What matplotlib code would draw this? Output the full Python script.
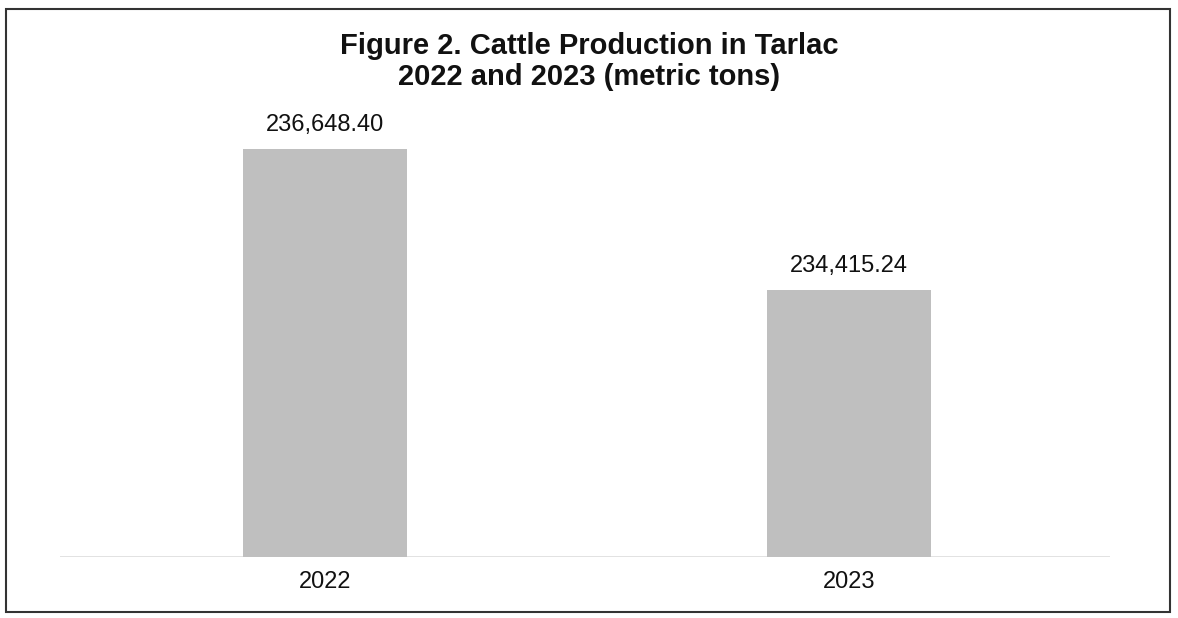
import matplotlib.pyplot as plt
from matplotlib.patches import Rectangle

# data
years = ['2022', '2023']
production = [236648.40, 234415.24]
value_labels = ['236,648.40', '234,415.24']

plt.rcParams['font.family'] = ['Liberation Sans', 'DejaVu Sans']

fig = plt.figure(figsize=(11.78, 6.18), dpi=100)
ax = fig.add_axes([0.0509, 0.0987, 0.891, 0.707])

x = range(len(years))
bars = ax.bar(x, production, width=0.313, color='#bfbfbf', zorder=2)

# value labels above bars
for b, lab in zip(bars, value_labels):
    ax.annotate(lab, (b.get_x() + b.get_width() / 2, b.get_height()),
                xytext=(0, 17.5), textcoords='offset points',
                ha='center', va='center', fontsize=17, color='#111111')

ax.set_xlim(-0.506, 1.498)
ax.set_ylim(230185, 237108)

# faint baseline
ax.axhline(230185, color='#dddddd', lw=1.2, zorder=1)

ax.set_xticks(list(x))
ax.set_xticklabels(years, fontsize=17, color='#111111')
ax.tick_params(axis='x', length=0, pad=10)
ax.set_yticks([])
for s in ax.spines.values():
    s.set_visible(False)

fig.text(0.5, 0.9, 'Figure 2. Cattle Production in Tarlac\n2022 and 2023 (metric tons)',
         ha='center', va='center', fontsize=21, fontweight='bold',
         linespacing=1.15, color='#111111')

# outer frame
fig.patches.append(Rectangle((6 / 1178, 6 / 618), 1164 / 1178, 603 / 618,
                             transform=fig.transFigure, fill=False,
                             edgecolor='#333333', lw=1.5))

fig.savefig('out.png', dpi=100)
